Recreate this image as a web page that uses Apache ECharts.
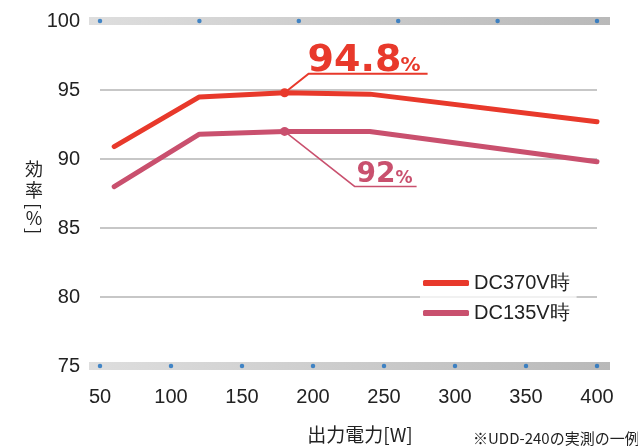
<!DOCTYPE html>
<html><head><meta charset="utf-8">
<script src="https://cdn.jsdelivr.net/npm/echarts@6/dist/echarts.min.js"></script>
<style>html,body{margin:0;padding:0;background:#fff}#c{width:638px;height:447px}</style>
</head><body><div id="c"></div>
<script>
// ---- data ----
const powerW = [60, 120, 180, 240, 400];
const effDC370 = [90.9, 94.5, 94.8, 94.7, 92.7];
const effDC135 = [88.0, 91.8, 92.0, 92.0, 89.8];
const seriesNames = ['DC370V時', 'DC135V時'];
const xTicks = [50, 100, 150, 200, 250, 300, 350, 400];
const yTicks = [75, 80, 85, 90, 95, 100];
const topDotsW = [50, 120, 190, 260, 330, 400];
const bottomDotsW = [50, 100, 150, 200, 250, 300, 350, 400];
const peakIndex = 2;
const peakLabel370 = '94.8';
const peakLabel135 = '92';
const yNameMain = '効\n率';
const yNameUnit = '%';
const xName = '出力電力[W]';
const footnote = '※UDD-240の実測の一例';

// ---- styles ----
const RED = '#e8392b', PINK = '#c9506e', TXT = '#222222', DOT = '#1b6fc0';
const LATIN = '"Liberation Sans", Arial, sans-serif';
const CJK = '"Noto Sans CJK JP", sans-serif';

const chart = echarts.init(document.getElementById('c'), null, {renderer: 'canvas'});
const yMin = yTicks[0], yMax = yTicks[yTicks.length - 1];
const xMin = xTicks[0], xMax = xTicks[xTicks.length - 1];

function pairs(xs, ys) { return xs.map((x, i) => [x, ys[i]]); }

chart.setOption({
  animation: false,
  backgroundColor: '#fff',
  grid: {left: 100, right: 41, top: 21, bottom: 81},
  xAxis: {
    type: 'value', min: xMin, max: xMax, interval: xTicks[1] - xTicks[0],
    axisLine: {show: false}, axisTick: {show: false}, splitLine: {show: false},
    axisLabel: {margin: 21, fontSize: 20, color: TXT, fontFamily: LATIN}
  },
  yAxis: {
    type: 'value', min: yMin, max: yMax, interval: yTicks[1] - yTicks[0],
    axisLine: {show: false}, axisTick: {show: false},
    splitLine: {show: true, showMinLine: false, showMaxLine: false, lineStyle: {color: '#b4b4b4', width: 1.5}},
    axisLabel: {margin: 20, fontSize: 20, color: TXT, fontFamily: LATIN}
  },
  legend: {
    data: seriesNames, orient: 'vertical', left: 420, top: 273,
    icon: 'roundRect', itemWidth: 46, itemHeight: 6, itemGap: 10, itemTextGap: 8,
    padding: [0, 7, 6, 3],
    backgroundColor: 'rgba(255,255,255,0.75)',
    textStyle: {fontSize: 20, lineHeight: 20, color: TXT, fontFamily: LATIN}
  },
  series: [
    {
      name: seriesNames[0], type: 'line', data: pairs(powerW, effDC370), z: 4,
      symbol: 'circle', symbolSize: (v, p) => p.dataIndex === peakIndex ? 9 : 0,
      itemStyle: {color: RED}, lineStyle: {color: RED, width: 5, cap: 'round', join: 'round'}
    },
    {
      name: seriesNames[1], type: 'line', data: pairs(powerW, effDC135), z: 3,
      symbol: 'circle', symbolSize: (v, p) => p.dataIndex === peakIndex ? 9 : 0,
      itemStyle: {color: PINK}, lineStyle: {color: PINK, width: 5, cap: 'round', join: 'round'}
    },
    {
      type: 'scatter', data: topDotsW.map(x => [x, yMax]), symbolSize: 4.5, clip: false, z: 5,
      itemStyle: {color: DOT}, silent: true
    },
    {
      type: 'scatter', data: bottomDotsW.map(x => [x, yMin]), symbolSize: 4.5, clip: false, z: 5,
      itemStyle: {color: DOT}, silent: true
    }
  ]
});

// ---- decorations positioned from the axes ----
const px = (x, y) => chart.convertToPixel({gridIndex: 0}, [x, y]);
const yTop = px(xMin, yMax)[1], yBot = px(xMin, yMin)[1];
const xL = px(xMin, yMin)[0] - 11, xR = px(xMax, yMin)[0] + 13;
const bandGrad = new echarts.graphic.LinearGradient(0, 0, 1, 0, [
  {offset: 0, color: '#dedede'}, {offset: 1, color: '#b9b9b9'}
]);
const P = px(powerW[peakIndex], effDC370[peakIndex]);
const Q = px(powerW[peakIndex], effDC135[peakIndex]);

chart.setOption({
  graphic: [
    {type: 'rect', z: 1, shape: {x: xL, y: yTop - 4, width: xR - xL, height: 8}, style: {fill: bandGrad}},
    {type: 'rect', z: 1, shape: {x: xL, y: yBot - 4, width: xR - xL, height: 8}, style: {fill: bandGrad}},
    // red callout
    {type: 'polyline', z: 6, shape: {points: [[P[0], P[1]], [P[0] + 24, P[1] - 19], [P[0] + 143, P[1] - 19]]},
      style: {stroke: RED, lineWidth: 2, fill: null}},
    {type: 'text', z: 6, x: P[0] + 23, y: P[1] - 13,
      style: {text: peakLabel370, fill: RED, font: 'bold 38px "DejaVu Sans"', textAlign: 'left', textVerticalAlign: 'bottom'}},
    {type: 'text', z: 6, x: P[0] + 116, y: P[1] - 17,
      style: {text: '%', fill: RED, font: 'bold 20px "DejaVu Sans"', textAlign: 'left', textVerticalAlign: 'bottom'}},
    // pink callout
    {type: 'polyline', z: 6, shape: {points: [[Q[0], Q[1]], [Q[0] + 70, Q[1] + 55], [Q[0] + 132, Q[1] + 55]]},
      style: {stroke: PINK, lineWidth: 1.5, fill: null}},
    {type: 'text', z: 6, x: Q[0] + 72, y: Q[1] + 57,
      style: {text: peakLabel135, fill: PINK, font: 'bold 28px "DejaVu Sans"', textAlign: 'left', textVerticalAlign: 'bottom'}},
    {type: 'text', z: 6, x: Q[0] + 111, y: Q[1] + 56,
      style: {text: '%', fill: PINK, font: 'bold 17px "DejaVu Sans"', textAlign: 'left', textVerticalAlign: 'bottom'}},
    // y axis name (vertical)
    {type: 'text', z: 6, x: 34, y: 159,
      style: {text: yNameMain, fill: TXT, font: '18px ' + CJK, lineHeight: 21, textAlign: 'center', textVerticalAlign: 'top'}},
    {type: 'text', z: 6, x: 34, y: 206, rotation: -Math.PI / 2,
      style: {text: '[', fill: TXT, font: '18px ' + CJK, textAlign: 'center', textVerticalAlign: 'middle'}},
    {type: 'text', z: 6, x: 34, y: 218,
      style: {text: yNameUnit, fill: TXT, font: '18px ' + CJK, textAlign: 'center', textVerticalAlign: 'middle'}},
    {type: 'text', z: 6, x: 34, y: 231, rotation: -Math.PI / 2,
      style: {text: ']', fill: TXT, font: '18px ' + CJK, textAlign: 'center', textVerticalAlign: 'middle'}},
    // x axis name & note
    {type: 'text', z: 6, x: 360, y: 435,
      style: {text: xName, fill: TXT, font: '19px ' + CJK, textAlign: 'center', textVerticalAlign: 'middle'}},
    {type: 'text', z: 6, x: 473, y: 438,
      style: {text: footnote, fill: TXT, font: '15px ' + CJK, textAlign: 'left', textVerticalAlign: 'middle'}}
  ]
});
</script>
</body></html>
